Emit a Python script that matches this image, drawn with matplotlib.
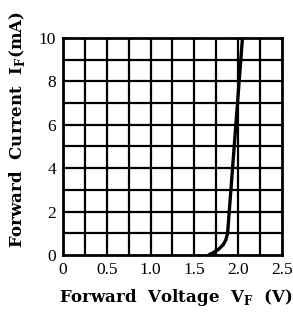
import matplotlib
matplotlib.use("Agg")
import matplotlib.pyplot as plt
import numpy as np

voltage = [1.66, 1.72, 1.78, 1.83, 1.86, 1.88, 2.05]
current = [0.0, 0.12, 0.28, 0.48, 0.7, 1.0, 10.0]

xticks = [0, 0.5, 1.0, 1.5, 2.0, 2.5]
xticklabels = ["0", "0.5", "1.0", "1.5", "2.0", "2.5"]
yticks = [0, 2, 4, 6, 8, 10]
yticklabels = ["0", "2", "4", "6", "8", "10"]

fig = plt.figure(figsize=(2.93, 3.13), dpi=100)
ax = fig.add_axes([0.215, 0.185, 0.747, 0.694])

ax.set_xlim(0, 2.5)
ax.set_ylim(0, 10)

for v in np.arange(0.25, 2.5, 0.25):
    ax.axvline(v, color="black", lw=1.6, zorder=1)
for i in range(1, 10):
    ax.axhline(i, color="black", lw=1.6, zorder=1)

ax.plot(voltage, current, color="black", lw=2.4, zorder=3, clip_on=True,
        solid_capstyle="butt", solid_joinstyle="round")

for s in ax.spines.values():
    s.set_linewidth(2.0)
    s.set_color("black")

ax.set_xticks(xticks)
ax.set_xticklabels(xticklabels)
ax.set_yticks(yticks)
ax.set_yticklabels(yticklabels)
ax.tick_params(length=0, pad=5)
for lab in ax.get_xticklabels() + ax.get_yticklabels():
    lab.set_fontfamily("Liberation Serif")
    lab.set_fontsize(12.5)

fig.text(0.6, 0.048, r"Forward  Voltage  V$_{\mathregular{F}}$  (V)",
         family="DejaVu Serif", fontweight="bold", fontsize=12,
         ha="center", va="center")
fig.text(0.058, 0.585, r"Forward  Current  I$_{\mathregular{F}}$(mA)",
         family="DejaVu Serif", fontweight="bold", fontsize=12,
         ha="center", va="center", rotation=90)

fig.savefig("out.png", dpi=100)
